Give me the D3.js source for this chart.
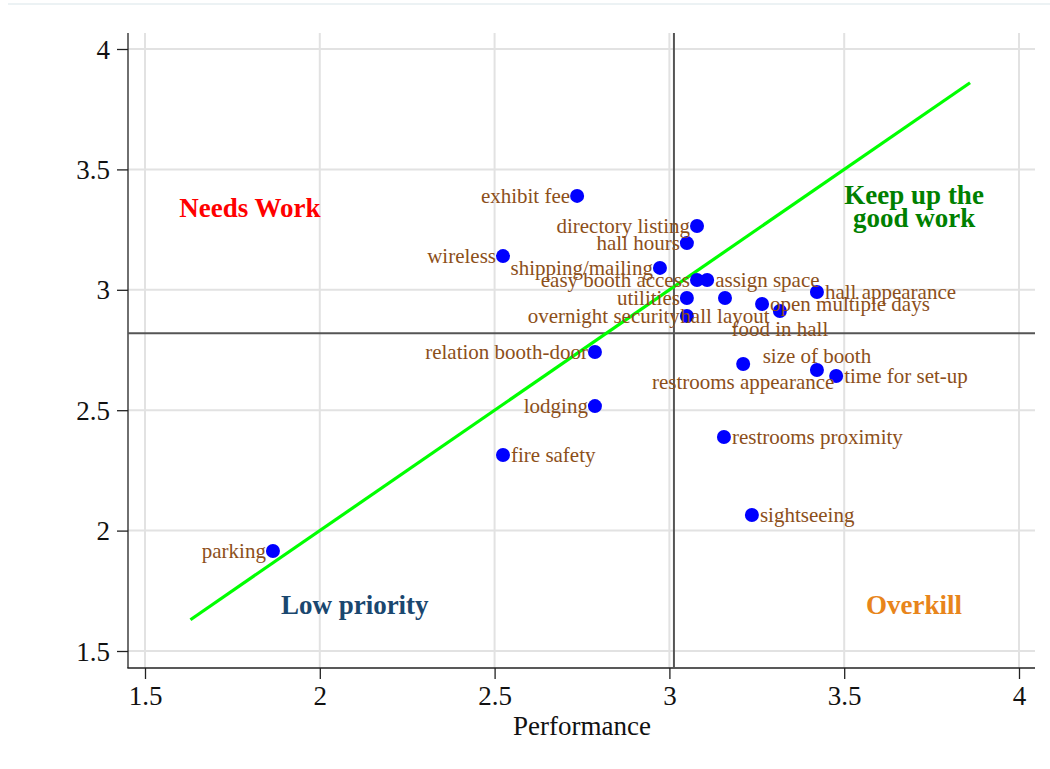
<!DOCTYPE html>
<html><head><meta charset="utf-8">
<script src="https://cdn.jsdelivr.net/npm/d3@7"></script>
<style>body{margin:0;background:#fff}svg{display:block}</style>
</head><body><svg id="c" width="1050" height="769"></svg>
<script>
const names = ["exhibit fee","directory listing","hall hours","wireless","shipping/mailing","easy booth access","assign space","utilities","hall layout","overnight security","open multiple days","food in hall","hall appearance","size of booth","time for set-up","restrooms appearance","relation booth-door","lodging","fire safety","restrooms proximity","sightseeing","parking"];
const performance = [2.736,3.079,3.050,2.524,2.973,3.079,3.108,3.050,3.159,3.050,3.265,3.316,3.422,3.422,3.477,3.211,2.787,2.787,2.524,3.156,3.236,1.866];
const importance  = [3.390,3.265,3.194,3.140,3.091,3.041,3.041,2.966,2.966,2.891,2.941,2.912,2.991,2.667,2.642,2.692,2.742,2.517,2.314,2.389,2.065,1.915];
const labelPos    = [9,9,9,9,9,9,3,9,6,9,3,6,3,12,3,6,9,9,3,3,3,9];
const xTicks = [1.5,2,2.5,3,3.5,4];
const yTicks = [1.5,2,2.5,3,3.5,4];
const meanX = 3.013, meanY = 2.82;
const diagLine = [1.63, 3.86];
const quadrants = [
  {text:["Needs Work"], x:1.80, y:3.302, color:"#ff0000"},
  {text:["Keep up the","good work"], x:3.70, y:3.356, color:"#008000"},
  {text:["Low priority"], x:2.10, y:1.654, color:"#1a476f"},
  {text:["Overkill"], x:3.70, y:1.654, color:"#e8851b"}
];

const svg = d3.select("#c");
const font = "'Liberation Serif','Times New Roman',serif";
const L = 128, R = 1035, T = 33, B = 668;
const x = d3.scaleLinear().domain([1.5,4]).range([145,1019]);
const y = d3.scaleLinear().domain([1.5,4]).range([651,49]);

svg.append("line").attr("x1",8).attr("x2",1050).attr("y1",4).attr("y2",4).attr("stroke","#e6eef0").attr("stroke-width",1.5);

// gridlines
svg.append("g").selectAll("line").data(xTicks).join("line")
  .attr("x1",d=>x(d)).attr("x2",d=>x(d)).attr("y1",T).attr("y2",B)
  .attr("stroke","#e2e2e2").attr("stroke-width",2);
svg.append("g").selectAll("line").data(yTicks).join("line")
  .attr("x1",L).attr("x2",R).attr("y1",d=>y(d)).attr("y2",d=>y(d))
  .attr("stroke","#e2e2e2").attr("stroke-width",2);

// axes
const gx = svg.append("g").attr("transform",`translate(0,${B})`)
  .call(d3.axisBottom(x).tickValues(xTicks).tickSize(11).tickPadding(7).tickFormat(d3.format("")));
const gy = svg.append("g").attr("transform",`translate(${L},0)`)
  .call(d3.axisLeft(y).tickValues(yTicks).tickSize(11).tickPadding(7).tickFormat(d3.format("")));
[gx,gy].forEach(g=>{
  g.select(".domain").remove();
  g.selectAll(".tick line").attr("stroke","#222").attr("stroke-width",1.3);
  g.selectAll("text").attr("font-family",font).attr("font-size",27).attr("fill","#111");
});
gy.selectAll("text").attr("dy","0.34em");
svg.append("line").attr("x1",L).attr("x2",L).attr("y1",T).attr("y2",B).attr("stroke","#222").attr("stroke-width",1.3);
svg.append("line").attr("x1",L-0.65).attr("x2",R).attr("y1",B).attr("y2",B).attr("stroke","#222").attr("stroke-width",1.3);

svg.append("text").attr("x",582).attr("y",735).attr("text-anchor","middle")
  .attr("font-family",font).attr("font-size",27).attr("fill","#111").text("Performance");

// mean lines
svg.append("line").attr("x1",x(meanX)).attr("x2",x(meanX)).attr("y1",T).attr("y2",B).attr("stroke","#555").attr("stroke-width",2);
svg.append("line").attr("x1",L).attr("x2",R).attr("y1",y(meanY)).attr("y2",y(meanY)).attr("stroke","#555").attr("stroke-width",2);

// diagonal
svg.append("line").attr("x1",x(diagLine[0])).attr("y1",y(diagLine[0])).attr("x2",x(diagLine[1])).attr("y2",y(diagLine[1]))
  .attr("stroke","#00ff00").attr("stroke-width",3.2);

// quadrant labels
quadrants.forEach(q=>{
  const t = svg.append("text").attr("x",x(q.x)).attr("y",y(q.y)).attr("text-anchor","middle")
    .attr("font-family",font).attr("font-size",27).attr("font-weight","bold").attr("fill",q.color);
  q.text.forEach((s,i)=>t.append("tspan").attr("x",x(q.x)).attr("dy", i===0 ? 0 : 23).text(s));
});

const data = names.map((n,i)=>({n, px:performance[i], py:importance[i], pos:labelPos[i]}));
svg.append("g").selectAll("circle").data(data).join("circle")
  .attr("cx",d=>x(d.px)).attr("cy",d=>y(d.py)).attr("r",7).attr("fill","#0000ff");

svg.append("g").selectAll("text").data(data).join("text")
  .attr("font-family",font).attr("font-size",21).attr("fill","#8c4f1a")
  .attr("x",d=>{const cx=x(d.px); return d.pos===9?cx-7:d.pos===3?cx+8:cx;})
  .attr("y",d=>{const cy=y(d.py); return d.pos===6?cy+18:d.pos===12?cy-14:cy;})
  .attr("dy","0.33em")
  .attr("text-anchor",d=>d.pos===9?"end":d.pos===3?"start":"middle")
  .text(d=>d.n);
</script></body></html>
